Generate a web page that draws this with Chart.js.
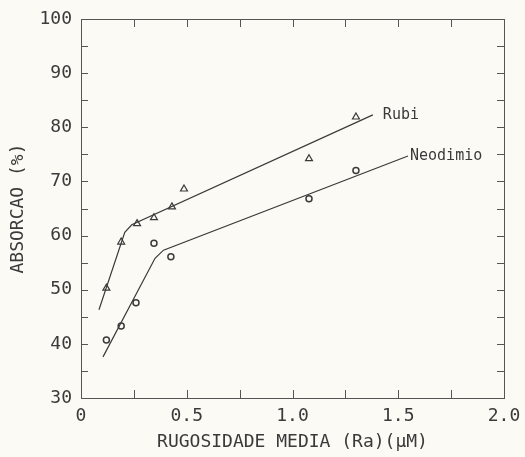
<!DOCTYPE html>
<html>
<head>
<meta charset="utf-8">
<script src="https://cdn.jsdelivr.net/npm/chart.js@4/dist/chart.umd.min.js"></script>
<style>
  html, body { margin: 0; padding: 0; background: #fbfaf4; }
  #wrap { width: 525px; height: 457px; }
</style>
</head>
<body>
<div id="wrap"><canvas id="chart" width="525" height="457"></canvas></div>
<script>
// measured points
var rubiX = [0.12, 0.19, 0.265, 0.345, 0.43, 0.487, 1.078, 1.30];
var rubiY = [50.3, 58.8, 62.2, 63.3, 65.3, 68.6, 74.2, 81.9];
var neoX = [0.12, 0.19, 0.26, 0.345, 0.425, 1.078, 1.30];
var neoY = [40.7, 43.3, 47.6, 58.6, 56.1, 66.8, 72.0];

// fitted curves drawn by hand in the original
var rubiFitX = [0.085, 0.207, 0.24, 1.38];
var rubiFitY = [46.3, 60.6, 62.0, 82.3];
var neoFitX = [0.104, 0.35, 0.39, 1.546];
var neoFitY = [37.6, 55.8, 57.3, 74.7];

var seriesNames = ['Rubi', 'Neodimio'];
var xTicks = [0, 0.5, 1.0, 1.5, 2.0];
var yTicks = [30, 40, 50, 60, 70, 80, 90, 100];

var ink = '#3a3a3a';
var mono = '"DejaVu Sans Mono", "Liberation Mono", monospace';

function toPoints(xs, ys) {
    return xs.map(function (x, i) { return { x: x, y: ys[i] }; });
}

function isMajor(value, list) {
    return list.some(function (t) { return Math.abs(t - value) < 1e-6; });
}

var framePlugin = {
    id: 'frame',
    beforeDraw: function (chart) {
        var ctx = chart.ctx;
        ctx.save();
        ctx.fillStyle = '#fbfaf4';
        ctx.fillRect(0, 0, chart.width, chart.height);
        ctx.restore();
    },
    afterDatasetsDraw: function (chart) {
        var ctx = chart.ctx;
        var a = chart.chartArea;
        var xs = chart.scales.x;
        var ys = chart.scales.y;
        ctx.save();
        ctx.strokeStyle = '#555';
        ctx.lineWidth = 1;
        ctx.strokeRect(a.left + 0.5, a.top + 0.5, a.right - a.left, a.bottom - a.top);

        ctx.beginPath();
        // inward ticks every 0.25 on x, every 5 on y
        for (var v = 0.25; v < 2; v += 0.25) {
            var px = Math.round(xs.getPixelForValue(v)) + 0.5;
            ctx.moveTo(px, a.top);
            ctx.lineTo(px, a.top + 8);
            ctx.moveTo(px, a.bottom);
            ctx.lineTo(px, a.bottom - 8);
        }
        for (var w = 35; w < 100; w += 5) {
            var py = Math.round(ys.getPixelForValue(w)) + 0.5;
            ctx.moveTo(a.left, py);
            ctx.lineTo(a.left + 7, py);
            ctx.moveTo(a.right, py);
            ctx.lineTo(a.right - 7, py);
        }
        ctx.stroke();

        // series names at the end of each fit line
        ctx.fillStyle = ink;
        ctx.font = '15px ' + mono;
        ctx.textBaseline = 'middle';
        ctx.textAlign = 'left';
        var ends = [
            [rubiFitX[rubiFitX.length - 1], rubiFitY[rubiFitY.length - 1], 10],
            [neoFitX[neoFitX.length - 1], neoFitY[neoFitY.length - 1], 2]
        ];
        ends.forEach(function (e, i) {
            ctx.fillText(seriesNames[i], xs.getPixelForValue(e[0]) + e[2], ys.getPixelForValue(e[1]));
        });
        ctx.restore();
    }
};

var ctx = document.getElementById('chart').getContext('2d');
new Chart(ctx, {
    type: 'scatter',
    data: {
        datasets: [{
            label: seriesNames[0],
            data: toPoints(rubiX, rubiY),
            pointStyle: 'triangle',
            pointRadius: 4,
            borderColor: ink,
            backgroundColor: 'rgba(0,0,0,0)',
            borderWidth: 1.2
        }, {
            label: seriesNames[1],
            data: toPoints(neoX, neoY),
            pointStyle: 'circle',
            pointRadius: 3,
            borderColor: ink,
            backgroundColor: 'rgba(0,0,0,0)',
            borderWidth: 1.5
        }, {
            label: seriesNames[0] + ' fit',
            data: toPoints(rubiFitX, rubiFitY),
            showLine: true,
            pointRadius: 0,
            borderColor: ink,
            borderWidth: 1.2
        }, {
            label: seriesNames[1] + ' fit',
            data: toPoints(neoFitX, neoFitY),
            showLine: true,
            pointRadius: 0,
            borderColor: ink,
            borderWidth: 1.2
        }]
    },
    options: {
        responsive: false,
        animation: false,
        layout: { padding: { top: 19, right: 21, left: 8, bottom: 0 } },
        plugins: {
            legend: { display: false },
            tooltip: { enabled: false }
        },
        scales: {
            x: {
                type: 'linear',
                min: 0,
                max: 2,
                border: { display: false },
                grid: { display: false, drawTicks: false },
                ticks: {
                    stepSize: 0.25,
                    autoSkip: false,
                    maxRotation: 0,
                    padding: 8,
                    color: ink,
                    font: { family: mono, size: 18 },
                    callback: function (value) {
                        if (!isMajor(value, xTicks)) return '';
                        return value === 0 ? '0' : value.toFixed(1);
                    }
                },
                title: {
                    display: true,
                    text: 'RUGOSIDADE MEDIA (Ra)(\u03bcM)',
                    color: ink,
                    font: { family: mono, size: 18 },
                    padding: { top: 4, bottom: 4 }
                },
                afterFit: function (scale) {
                    scale.height = 59;
                    scale.paddingLeft = 0;
                    scale.paddingRight = 0;
                }
            },
            y: {
                type: 'linear',
                min: 30,
                max: 100,
                border: { display: false },
                grid: { display: false, drawTicks: false },
                ticks: {
                    stepSize: 5,
                    autoSkip: false,
                    padding: 9,
                    color: ink,
                    font: { family: mono, size: 18 },
                    callback: function (value) {
                        return isMajor(value, yTicks) ? String(value) : '';
                    }
                },
                title: {
                    display: true,
                    text: 'ABSORCAO (%)',
                    color: ink,
                    font: { family: mono, size: 18 },
                    padding: { top: 0, bottom: 4 }
                },
                afterFit: function (scale) {
                    scale.width = 73;
                    scale.paddingTop = 0;
                    scale.paddingBottom = 0;
                }
            }
        }
    },
    plugins: [framePlugin]
});
</script>
</body>
</html>
